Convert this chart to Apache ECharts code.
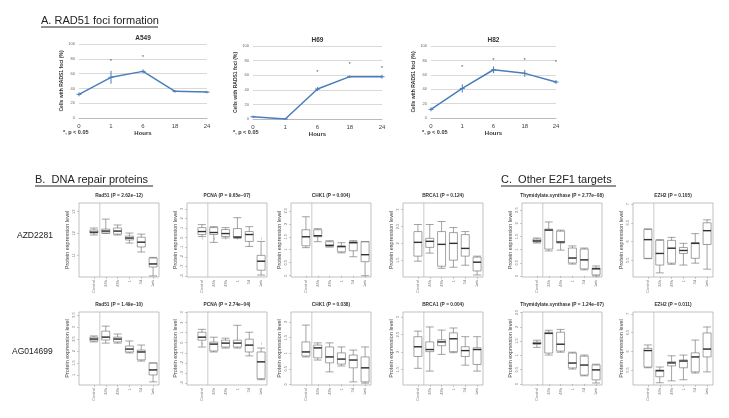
<!DOCTYPE html>
<html>
<head>
<meta charset="utf-8">
<script src="https://cdn.jsdelivr.net/npm/echarts@6/dist/echarts.min.js"></script>
<style>
  html, body { margin: 0; padding: 0; background: #fff; }
  #chart { width: 729px; height: 418px; }
</style>
</head>
<body>
<div id="chart"></div>
<script>
// ---- panel A: RAD51 foci (% cells), mean, error, significance star height
const hours = ['0', '1', '6', '18', '24'];
const a549Mean = [32, 55, 63, 36, 35];
const a549Err = [2, 8, 2, 1, 1];
const a549Star = [null, 77, 82, null, null];
const h69Mean = [3, 0, 41, 58, 58];
const h69Err = [1, 0, 2, 1, 2];
const h69Star = [null, null, 64, 75, 70];
const h82Mean = [12, 41, 67, 62, 50];
const h82Err = [2, 5, 4, 4, 2];
const h82Star = [null, 70, 80, 80, 77];

// ---- panels B / C: box stats [min, Q1, median, Q3, max]
const groups = ['Control', '24h', '48h', '1', '3d', '1wk'];
const rad51Azd = [[11.93,12.02,12.06,12.16,12.25],[12.0,12.02,12.11,12.2,12.66],[11.93,11.97,12.11,12.25,12.39],[11.56,11.7,11.79,11.88,12.02],[11.15,11.38,11.6,11.83,11.97],[10.05,10.46,10.6,10.87,10.9]];
const pcnaAzd = [[0.11,0.32,0.63,1.04,1.35],[-0.5,0.32,0.53,1.04,1.14],[-0.04,0.11,0.42,0.84,1.04],[-0.1,0.01,0.06,0.94,2.07],[-0.92,-0.4,0.32,0.63,1.14],[-3.9,-3.39,-2.46,-1.85,-0.4]];
const chk1Azd = [[1.08,1.15,1.5,1.77,2.27],[1.31,1.5,1.54,1.77,1.81],[1.1,1.13,1.17,1.31,1.35],[0.88,0.92,1.12,1.15,1.27],[0.73,0.96,1.27,1.31,1.35],[0.0,0.54,0.81,1.31,1.31]];
const brca1Azd = [[1.47,1.62,2.03,2.35,2.56],[1.71,1.88,2.06,2.15,2.56],[1.26,1.32,1.97,2.35,2.65],[1.29,1.5,2.0,2.32,2.47],[1.35,1.62,1.85,2.26,2.35],[1.06,1.18,1.44,1.59,1.62]];
const tsAzd = [[1.25,1.29,1.33,1.4,1.44],[0.95,1.02,1.74,1.78,2.05],[0.98,1.25,1.29,1.7,1.74],[0.45,0.49,0.68,1.06,1.14],[0.23,0.27,0.61,1.02,1.06],[0.0,0.04,0.27,0.3,0.38]];
const ezh2Azd = [[5.54,5.55,6.05,6.32,6.34],[5.16,5.37,5.68,6.03,6.05],[5.39,5.42,5.82,6.03,6.11],[5.37,5.68,5.76,5.84,5.95],[5.42,5.55,5.95,5.97,6.21],[5.26,5.92,6.29,6.5,6.58]];
const rad51Ag = [[2.38,2.42,2.5,2.58,2.63],[2.33,2.46,2.58,2.83,3.04],[2.33,2.38,2.5,2.58,2.71],[1.92,1.96,2.08,2.21,2.42],[1.58,1.63,1.96,2.04,2.25],[0.71,1.0,1.21,1.5,1.5]];
const pcnaAg = [[-0.43,0.25,0.55,1.04,1.33],[-0.92,-0.82,-0.14,0.06,0.55],[-0.53,-0.43,-0.04,0.25,0.45],[-0.53,-0.43,-0.04,0.25,1.73],[-1.31,-0.92,-0.24,0.35,1.04],[-3.67,-3.57,-1.9,-0.92,-0.53]];
const chk1Ag = [[0.88,0.91,1.04,1.36,1.9],[0.78,0.85,1.17,1.26,1.33],[0.4,0.69,0.88,1.2,1.33],[0.59,0.65,0.81,1.01,1.2],[0.08,0.53,0.78,0.94,1.1],[0.04,0.08,0.53,0.88,1.2]];
const brca1Ag = [[1.53,1.87,2.15,2.44,2.6],[1.45,2.01,2.07,2.29,2.72],[1.93,2.18,2.29,2.35,2.63],[1.98,2.01,2.38,2.55,2.69],[1.62,1.87,2.04,2.15,2.44],[1.45,1.64,2.07,2.12,2.44]];
const tsAg = [[1.28,1.39,1.42,1.46,1.53],[1.01,1.08,1.77,1.81,1.88],[1.11,1.15,1.39,1.81,1.91],[0.52,0.56,0.73,1.08,1.11],[0.28,0.31,0.66,0.97,1.01],[0.03,0.14,0.49,0.66,0.69]];
const ezh2Ag = [[5.56,5.58,6.02,6.08,6.17],[5.16,5.32,5.48,5.5,5.58],[5.21,5.61,5.69,5.72,5.88],[5.24,5.56,5.74,5.77,5.9],[5.42,5.45,5.85,5.96,6.3],[5.45,5.85,6.06,6.49,6.65]];

// y tick labels per protein
const rad51AzdTicks = [11, 12, 13];
const rad51AgTicks = [1, 1.5, 2, 2.5, 3, 3.5];
const pcnaTicks = [-4, -3, -2, -1, 0, 1, 2, 3];
const chk1AzdTicks = [0, 0.5, 1, 1.5, 2, 2.5];
const chk1AgTicks = [0, 0.5, 1, 1.5, 2];
const brca1Ticks = [1.5, 2, 2.5, 3];
const tsTicks = [0, 0.5, 1, 1.5, 2, 2.5];
const ezh2Ticks = [5.5, 6, 6.5, 7];

const FONT = 'Liberation Sans, Arial, sans-serif';
const BLUE = '#4a7ebb';

let option = { animation: false, grid: [], xAxis: [], yAxis: [], series: [], graphic: [] };

function txt(text, x, y, size, opts) {
    opts = opts || {};
    option.graphic.push({
        type: 'text', x: x, y: y, silent: true,
        style: {
            text: text, fontSize: size, fontFamily: FONT,
            fontWeight: opts.bold ? 'bold' : 'normal',
            fill: opts.color || '#222',
            align: opts.align || 'left', textAlign: opts.align || 'left',
            verticalAlign: 'middle', textVerticalAlign: 'middle'
        }
    });
}
function uline(x1, x2, y) {
    option.graphic.push({ type: 'line', silent: true,
        shape: { x1: x1, y1: y, x2: x2, y2: y }, style: { stroke: '#222', lineWidth: 1 } });
}

// ---- line charts
const lineCharts = [
    { name: 'A549', mean: a549Mean, err: a549Err, star: a549Star, left: 79, top: 44, width: 128, height: 74, note: 63 },
    { name: 'H69', mean: h69Mean, err: h69Err, star: h69Star, left: 253, top: 46, width: 129, height: 73, note: 233 },
    { name: 'H82', mean: h82Mean, err: h82Err, star: h82Star, left: 431, top: 46, width: 125, height: 72, note: 422 }
];

lineCharts.forEach(function (c) {
    let gi = option.grid.length;
    option.grid.push({ left: c.left, top: c.top, width: c.width, height: c.height });
    option.xAxis.push({
        type: 'category', gridIndex: gi, data: hours, boundaryGap: false,
        axisLine: { lineStyle: { color: '#bbb' } }, axisTick: { show: false },
        axisLabel: { fontSize: 6, color: '#444', margin: 5, fontFamily: FONT },
        name: 'Hours', nameLocation: 'middle', nameGap: 12,
        nameTextStyle: { fontSize: 6, fontWeight: 'bold', color: '#333', fontFamily: FONT }
    });
    option.yAxis.push({
        type: 'value', gridIndex: gi, min: 0, max: 100, interval: 20,
        axisLine: { show: false }, axisTick: { show: false },
        splitLine: { lineStyle: { color: '#cfcfcf', width: 0.8 } },
        axisLabel: { fontSize: 4, color: '#666', margin: 4, fontFamily: FONT },
        name: 'Cells with RADS1 foci (%)', nameLocation: 'middle', nameGap: 10,
        nameTextStyle: { fontSize: 5, fontWeight: 'bold', color: '#333', fontFamily: FONT }
    });
    option.series.push({
        type: 'line', xAxisIndex: gi, yAxisIndex: gi, data: c.mean,
        symbol: 'none', lineStyle: { color: BLUE, width: 1.5 }, z: 3
    });
    option.series.push({
        type: 'custom', xAxisIndex: gi, yAxisIndex: gi,
        data: c.mean.map(function (m, i) { return [i, m, c.err[i]]; }),
        encode: { x: 0, y: 1 },
        renderItem: function (params, api) {
            let x = api.value(0), m = api.value(1), e = api.value(2);
            let t = api.coord([x, m + e]), b = api.coord([x, m - e]), p = api.coord([x, m]);
            let st = { stroke: BLUE, lineWidth: 1 };
            return { type: 'group', children: [
                { type: 'line', shape: { x1: t[0], y1: t[1] - 0.5, x2: b[0], y2: b[1] + 0.5 }, style: st },
                { type: 'line', shape: { x1: p[0] - 2.5, y1: p[1], x2: p[0] + 2.5, y2: p[1] }, style: st }
            ] };
        },
        z: 4
    });
    let stars = [];
    c.star.forEach(function (s, i) { if (s !== null) stars.push([i, s]); });
    option.series.push({
        type: 'scatter', xAxisIndex: gi, yAxisIndex: gi, data: stars,
        symbolSize: 0.1, itemStyle: { color: '#fff' },
        label: { show: true, position: 'inside', formatter: '*', fontSize: 6, color: '#333', fontFamily: FONT }
    });
    txt(c.name, c.left + c.width / 2, c.top - 6, 6.5, { bold: true, align: 'center', color: '#333' });
    txt('*, p < 0.05', c.note, 132, 5.5, { bold: true, color: '#333' });
});

txt('A. RAD51 foci formation', 41, 21, 11);
uline(41, 158, 27);
txt('B.  DNA repair proteins', 35, 180, 11);
uline(35, 153, 186);
txt('C.  Other E2F1 targets', 501, 180, 11);
uline(501, 616, 186);
txt('AZD2281', 17, 236, 8.5);
txt('AG014699', 12, 352, 8.5);

// ---- box plot panels (frame is wider than the box area: boxes sit to the right)
const frameLefts = [79, 187, 291, 403, 522, 633];
const FRAME_W = 80, PAD_L = 9;
const rows = [
    { top: 203, height: 74, panels: [
        { title: 'Rad51 (P = 2.62e\u221212)', data: rad51Azd, min: 10, max: 13.4, ticks: rad51AzdTicks },
        { title: 'PCNA (P = 9.65e\u221207)', data: pcnaAzd, min: -4.1, max: 3.6, ticks: pcnaTicks },
        { title: 'CHK1 (P = 0.004)', data: chk1Azd, min: -0.05, max: 2.8, ticks: chk1AzdTicks },
        { title: 'BRCA1 (P = 0.124)', data: brca1Azd, min: 1.0, max: 3.2, ticks: brca1Ticks },
        { title: 'Thymidylate.synthase (P = 2.77e\u221208)', data: tsAzd, min: -0.04, max: 2.77, ticks: tsTicks },
        { title: 'EZH2 (P = 0.105)', data: ezh2Azd, min: 5.05, max: 7.03, ticks: ezh2Ticks }
    ] },
    { top: 312, height: 73, panels: [
        { title: 'Rad51 (P = 1.49e\u221210)', data: rad51Ag, min: 0.58, max: 3.63, ticks: rad51AgTicks },
        { title: 'PCNA (P = 2.74e\u221204)', data: pcnaAg, min: -4.2, max: 3.05, ticks: pcnaTicks },
        { title: 'CHK1 (P = 0.038)', data: chk1Ag, min: -0.02, max: 2.32, ticks: chk1AgTicks },
        { title: 'BRCA1 (P = 0.004)', data: brca1Ag, min: 1.05, max: 3.15, ticks: brca1Ticks },
        { title: 'Thymidylate.synthase (P = 1.24e\u221207)', data: tsAg, min: -0.04, max: 2.52, ticks: tsTicks },
        { title: 'EZH2 (P = 0.011)', data: ezh2Ag, min: 5.1, max: 7.05, ticks: ezh2Ticks }
    ] }
];

rows.forEach(function (row) {
    row.panels.forEach(function (p, k) {
        let gi = option.grid.length;
        let fl = frameLefts[k];
        option.grid.push({ left: fl + PAD_L, top: row.top, width: FRAME_W - PAD_L, height: row.height });
        option.graphic.push({ type: 'rect', silent: true, z: -1,
            shape: { x: fl, y: row.top, width: FRAME_W, height: row.height },
            style: { fill: 'none', stroke: '#999', lineWidth: 0.6 } });
        option.xAxis.push({
            type: 'category', gridIndex: gi, data: groups,
            axisLine: { show: false },
            axisTick: { show: true, alignWithLabel: true, length: 2, lineStyle: { color: '#999', width: 0.5 } },
            axisLabel: { rotate: 90, fontSize: 4, color: '#777', margin: 3, interval: 0, fontFamily: FONT },
            splitLine: { show: false }
        });
        option.yAxis.push({
            type: 'value', gridIndex: gi, min: p.min, max: p.max, offset: PAD_L,
            axisLine: { show: false },
            axisTick: { show: true, length: 2, customValues: p.ticks, lineStyle: { color: '#999', width: 0.5 } },
            axisLabel: { customValues: p.ticks, rotate: 90, fontSize: 4, color: '#777', margin: 3, fontFamily: FONT },
            splitLine: { show: false },
            name: 'Protein expression level', nameLocation: 'middle', nameGap: 9,
            nameTextStyle: { fontSize: 5.5, color: '#444', fontFamily: FONT }
        });
        // separator between Control and treated groups
        option.series.push({
            type: 'custom', xAxisIndex: gi, yAxisIndex: gi,
            data: [[0, p.min]], encode: { x: 0, y: 1 }, silent: true,
            renderItem: function (params, api) {
                let a = api.coord([0, p.min]), b = api.coord([1, p.min]), t = api.coord([0, p.max]);
                let mx = (a[0] + b[0]) / 2;
                return { type: 'line', shape: { x1: mx, y1: t[1], x2: mx, y2: a[1] },
                    style: { stroke: '#aaa', lineWidth: 0.6 } };
            }
        });
        option.series.push({
            type: 'boxplot', xAxisIndex: gi, yAxisIndex: gi, data: p.data,
            boxWidth: [8, 8],
            itemStyle: { color: '#fff', borderColor: '#666', borderWidth: 0.6 }
        });
        option.series.push({
            type: 'scatter', xAxisIndex: gi, yAxisIndex: gi,
            data: p.data.map(function (b) { return b[2]; }),
            symbol: 'rect', symbolSize: [8, 1.4], itemStyle: { color: '#111' }, z: 5
        });
        txt(p.title, fl + FRAME_W / 2, row.top - 7, 4.8, { bold: true, align: 'center', color: '#333' });
    });
});

let myChart = echarts.init(document.getElementById('chart'));
myChart.setOption(option);
</script>
</body>
</html>
